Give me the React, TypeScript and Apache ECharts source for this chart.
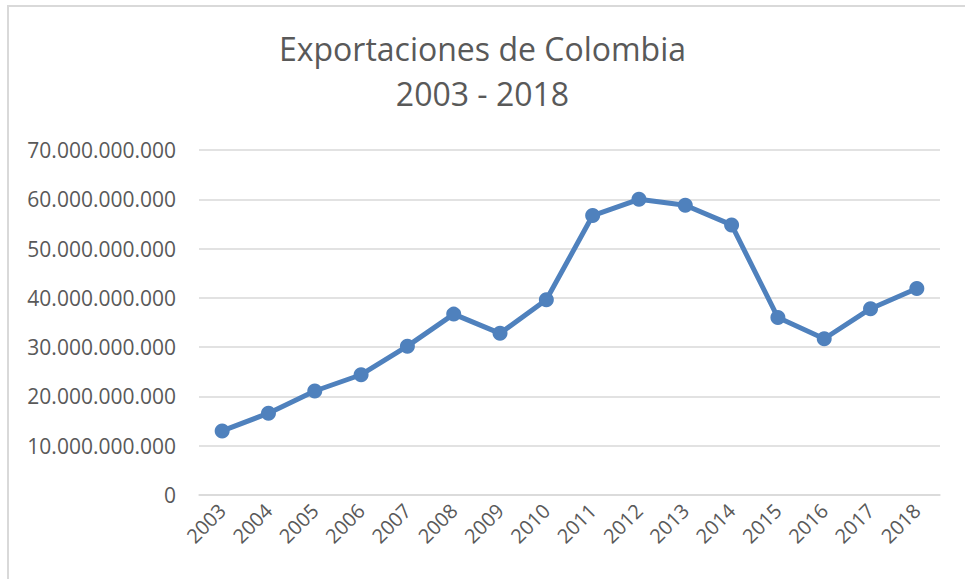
import React, { useEffect, useRef } from "react";
import * as echarts from "echarts";

const years = ["2003","2004","2005","2006","2007","2008","2009","2010","2011","2012","2013","2014","2015","2016","2017","2018"];
const exportsValues = [
  13.0e9, 16.6e9, 21.1e9, 24.4e9, 30.2e9, 36.7e9, 32.8e9, 39.6e9,
  56.7e9, 60.0e9, 58.8e9, 54.8e9, 36.0e9, 31.7e9, 37.8e9, 41.9e9,
];
const titleLines = ["Exportaciones de Colombia", "2003 - 2018"];
const yMax = 70e9;
const yStep = 10e9;

function fmt(v: number): string {
  return String(Math.round(v)).replace(/\B(?=(\d{3})+(?!\d))/g, ".");
}

export default function App() {
  const ref = useRef<HTMLDivElement>(null);
  useEffect(() => {
    document.body.style.margin = "0";
    const chart = echarts.init(ref.current!, null, { renderer: "svg" });
    const font = "'Open Sans', 'Noto Sans', sans-serif";
    chart.setOption({
      animation: false,
      backgroundColor: "#ffffff",
      textStyle: { fontFamily: font },
      graphic: [
        {
          type: "rect",
          shape: { x: 8, y: 6, width: 1200, height: 1200 },
          style: { fill: "none", stroke: "#d9d9d9", lineWidth: 2 },
          silent: true,
        },
      ],
      title: {
        text: titleLines.join("\n"),
        left: "center",
        top: 21,
        textStyle: {
          fontFamily: font,
          fontSize: 32,
          fontWeight: "normal",
          color: "#595959",
          lineHeight: 45,
        },
      },
      grid: { left: 199, right: 25, top: 150, bottom: 84, containLabel: false },
      xAxis: {
        type: "category",
        data: years,
        boundaryGap: true,
        axisLine: { show: true, lineStyle: { color: "#d9d9d9", width: 1.5 } },
        axisTick: { show: false },
        axisLabel: {
          rotate: 45,
          margin: 12,
          interval: 0,
          fontFamily: font,
          fontSize: 20,
          color: "#595959",
        },
      },
      yAxis: {
        type: "value",
        min: 0,
        max: yMax,
        interval: yStep,
        axisLine: { show: false },
        axisTick: { show: false },
        splitLine: { lineStyle: { color: "#d9d9d9", width: 1.5 } },
        axisLabel: {
          margin: 23,
          fontFamily: font,
          fontSize: 21,
          color: "#595959",
          formatter: (v: number) => fmt(v),
        },
      },
      series: [
        {
          type: "line",
          data: exportsValues,
          symbol: "circle",
          symbolSize: 15,
          lineStyle: { color: "#4f81bd", width: 5 },
          itemStyle: { color: "#4f81bd" },
        },
      ],
    });
    return () => chart.dispose();
  }, []);
  return (
    <div
      ref={ref}
      style={{ position: "fixed", left: 0, top: 0, width: 965, height: 579 }}
    />
  );
}
